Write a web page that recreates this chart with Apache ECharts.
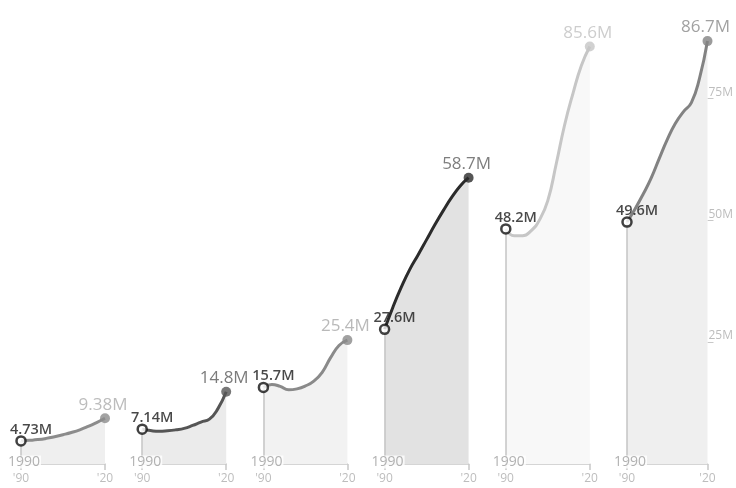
<!DOCTYPE html>
<html>
<head>
<meta charset="utf-8">
<script src="https://cdn.jsdelivr.net/npm/echarts@6/dist/echarts.min.js"></script>
<style>html,body{margin:0;padding:0;background:#fff}#c{width:736px;height:488px}</style>
</head>
<body>
<div id="c"></div>
<script>
// ---- data ----
const years = [1990, 1993, 1996, 1999, 2002, 2005, 2008, 2011, 2014, 2017, 2020];
const popA = [4.73, 4.85, 5.0, 5.25, 5.6, 6.0, 6.45, 7.0, 7.7, 8.5, 9.38];
const popB = [7.14, 6.85, 6.7, 6.8, 7.0, 7.3, 7.9, 8.6, 9.2, 11.3, 14.8];
const popC = [15.7, 16.3, 15.9, 15.2, 15.4, 16.0, 17.0, 18.8, 21.8, 24.3, 25.4];
const popD = [27.6, 32.2, 36.3, 39.9, 42.9, 46.0, 49.1, 52.0, 54.7, 57.0, 58.7];
const popE = [48.2, 46.8, 46.8, 47.8, 50.0, 54.0, 61.5, 69.5, 76.0, 81.7, 85.6];
const popF = [49.6, 52.3, 55.3, 58.6, 62.6, 66.5, 69.8, 72.2, 74.1, 79.0, 86.7];
const yTickValues = [25, 50, 75];
const allSeries = [popA, popB, popC, popD, popE, popF];

// ---- styles ----
const lineColors = ['#8c8c8c', '#555555', '#8a8a8a', '#2b2b2b', '#c6c6c6', '#828282'];
const areaColors = ['#efefef', '#ebebeb', '#f2f2f2', '#e2e2e2', '#f8f8f8', '#efefef'];
const endLabelColors = ['#ababab', '#5a5a5a', '#a8a8a8', '#5e5e5e', '#c0c0c0', '#8a8a8a'];
const FONT = 'Open Sans';
const fmt = v => v.toPrecision(3) + 'M';
const yr = y => "'" + String(y).slice(2);

const grids = [], xAxes = [], yAxes = [], series = [];
allSeries.forEach((vals, i) => {
  grids.push({ left: 21 + i * 121.2, width: 84, top: 25, height: 439 });
  xAxes.push({
    gridIndex: i, type: 'value', min: years[0], max: years[years.length - 1], interval: 30,
    splitLine: { show: false },
    axisLine: { show: true, lineStyle: { color: '#c8c8c8', width: 1.5 } },
    axisTick: { show: true, length: 6, lineStyle: { color: '#c8c8c8', width: 1.5 } },
    axisLabel: { color: '#bdbdbd', fontFamily: FONT, fontSize: 12, margin: 9, formatter: yr }
  });
  const last = i === allSeries.length - 1;
  yAxes.push({
    gridIndex: i, type: 'value', min: 0, max: 90, interval: 25, position: 'right',
    splitLine: { show: false },
    axisLine: { show: false },
    axisTick: { show: last, length: 6, customValues: yTickValues, lineStyle: { color: '#c8c8c8', width: 1 } },
    axisLabel: { show: last, customValues: yTickValues, color: '#bdbdbd', fontFamily: FONT, fontSize: 12,
      margin: 1, verticalAlign: 'bottom', formatter: v => v + 'M' }
  });
  const first = vals[0], end = vals[vals.length - 1];
  series.push({
    type: 'line', xAxisIndex: i, yAxisIndex: i, smooth: true,
    showSymbol: false, z: 3,
    data: years.map((y, k) => [y, vals[k]]),
    lineStyle: { color: lineColors[i], width: 3 },
    itemStyle: { color: lineColors[i] },
    areaStyle: { color: areaColors[i], opacity: 1 },
    markLine: {
      silent: true, symbol: 'none', label: { show: false },
      lineStyle: { color: '#c4c4c4', width: 1.5, type: 'solid' },
      data: [[{ coord: [years[0], 0] }, { coord: [years[0], first] }]]
    }
  });
  // "1990" start-year tag on the baseline
  series.push({
    type: 'scatter', xAxisIndex: i, yAxisIndex: i, symbolSize: 0, z: 6, silent: true,
    data: [[years[0], 0]],
    label: { show: true, position: 'inside', offset: [3, -2], formatter: String(years[0]),
      color: '#9e9e9e', fontFamily: FONT, fontSize: 14, backgroundColor: '#fff', padding: [0, 1, -1, 1] }
  });
  // end point
  series.push({
    type: 'scatter', xAxisIndex: i, yAxisIndex: i, symbol: 'circle', symbolSize: 10, z: 5,
    data: [[years[years.length - 1], end]],
    itemStyle: { color: lineColors[i] },
    label: { show: true, position: 'top', distance: 0, offset: [-2, 0], formatter: fmt(end),
      color: endLabelColors[i], fontFamily: FONT, fontSize: 17 }
  });
  // start point
  series.push({
    type: 'scatter', xAxisIndex: i, yAxisIndex: i, symbol: 'circle', symbolSize: 9, z: 7,
    data: [[years[0], first]],
    itemStyle: { color: '#fff', borderColor: '#111', borderWidth: 2.5 },
    label: { show: true, position: 'top', distance: -2, offset: [10, 0], formatter: fmt(first),
      color: '#1a1a1a', fontFamily: FONT, fontSize: 14.5, fontWeight: 600 }
  });
});

const chart = echarts.init(document.getElementById('c'), null, { renderer: 'canvas' });
chart.setOption({
  animation: false,
  backgroundColor: '#fff',
  grid: grids, xAxis: xAxes, yAxis: yAxes, series: series
});
</script>
</body>
</html>
